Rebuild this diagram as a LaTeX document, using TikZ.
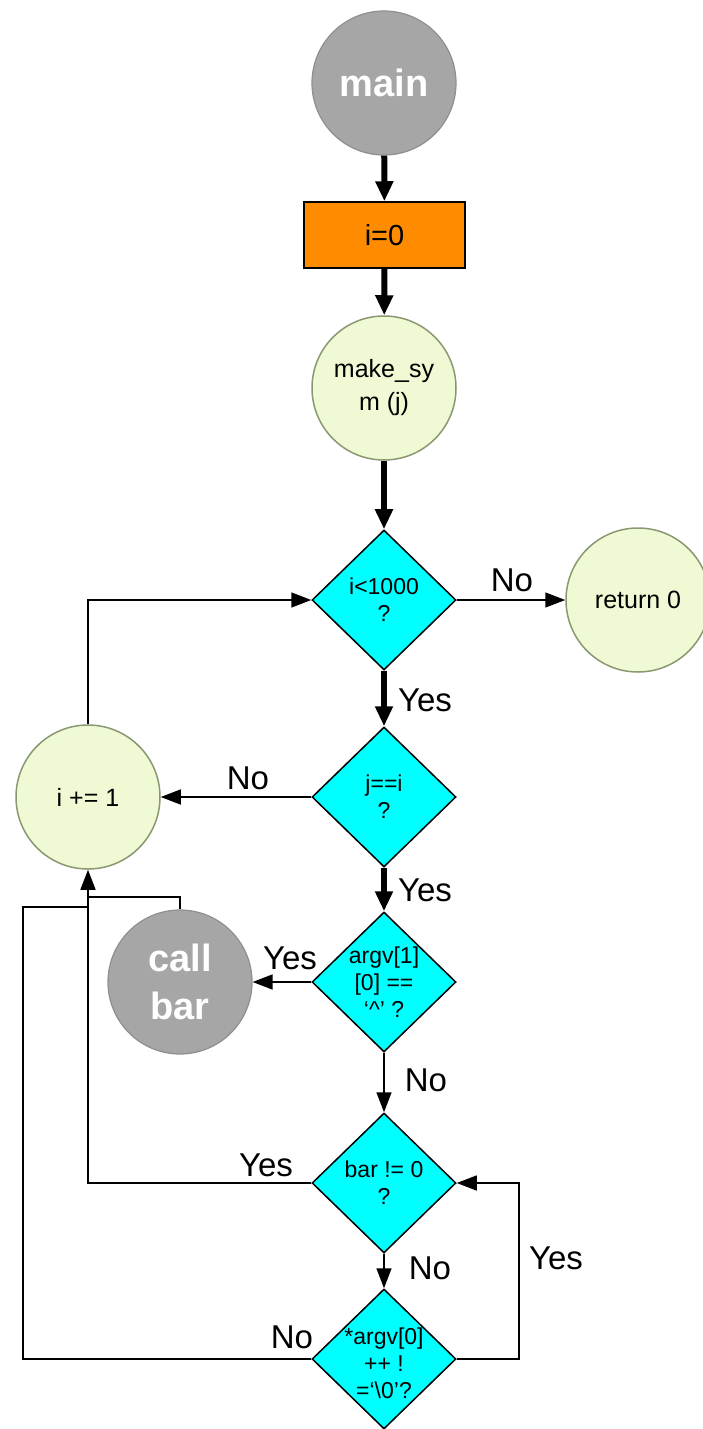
\documentclass[tikz,border=0pt]{standalone}
\usepackage{fontspec}
\setmainfont{Liberation Sans}
\usetikzlibrary{shapes.geometric,arrows.meta}
\definecolor{grayfill}{HTML}{A6A6A6}
\definecolor{grayline}{HTML}{8F8F8F}
\definecolor{greenfill}{HTML}{EFF9D3}
\definecolor{greenline}{HTML}{8A9872}
\definecolor{orangefill}{HTML}{FF8C00}
\definecolor{cyanfill}{HTML}{00FFFF}
\begin{document}
\begin{tikzpicture}[x=1pt,y=-1pt,
 graycirc/.style={circle,minimum size=144pt,inner sep=0,fill=grayfill,draw=grayline,line width=1.2pt,text=white,font=\fontsize{38}{48}\selectfont\bfseries,align=center},
 greencirc/.style={circle,minimum size=144pt,inner sep=0,fill=greenfill,draw=greenline,line width=1.5pt,font=\fontsize{25}{33}\selectfont,align=center},
 decision/.style={diamond,minimum width=144pt,minimum height=140pt,inner sep=0,fill=cyanfill,draw=black,line width=1.5pt},
 dtext/.style={font=\fontsize{23}{27}\selectfont,align=center},
 thinarrow/.style={line width=1.5pt,-{Triangle[length=20pt,width=15pt]}},
 thickarrow/.style={line width=6pt,-{Triangle[length=20pt,width=17pt]}},
 thinline/.style={line width=1.5pt},
 lbl/.style={font=\fontsize{33}{34}\selectfont,inner sep=0}]
\useasboundingbox[fill=white] (0,0) rectangle (703,1429);

\node[graycirc] (main) at (384,83) {main};
\node[draw=black,line width=1.5pt,fill=orangefill,minimum width=161pt,minimum height=66pt,inner sep=0,font=\fontsize{29}{30}\selectfont] (init) at (384.5,235) {i=0};
\node[greencirc] (make) at (384,388) {make\_sy\\m (j)};
\node[decision,label={[dtext]center:i<1000\\?}] (c1) at (384,600) {};
\node[greencirc] (ret) at (638,600) {return 0};
\node[decision,label={[dtext]center:j==i\\?}] (c2) at (384,797) {};
\node[greencirc] (inc) at (88,797) {i += 1};
\node[decision,label={[dtext]center:argv[1]\\{[0] ==}\\‘\textasciicircum’ ?}] (c3) at (384,982) {};
\node[graycirc] (call) at (180,982) {call\\bar};
\node[decision,label={[dtext]center:bar != 0\\?}] (c4) at (384,1183) {};
\node[decision,label={[dtext,yshift=-4pt]center:*argv[0]\\++ !\\=‘\textbackslash0’?}] (c5) at (384,1359) {};

\coordinate (j1) at (88,897);
\coordinate (j2) at (88,907);
\coordinate (k2) at (23,907);

\draw[thickarrow] (main) -- (init);
\draw[thickarrow] (init) -- (make);
\draw[thickarrow] (make) -- (c1);
\draw[thickarrow] (c1) -- (c2);
\draw[thickarrow] (c2) -- (c3);
\draw[thinarrow] (c1) -- (ret);
\draw[thinarrow] (c2) -- (inc);
\draw[thinarrow] (c3) -- (call);
\draw[thinarrow] (c3) -- (c4);
\draw[thinarrow] (c4) -- (c5);
\draw[thinarrow] (inc.north) |- (c1.west);
\draw[thinarrow] (c4.west) -| (inc.south);
\draw[thinline] (call.north) |- (j1);
\draw[thinline] (c5.west) -| (k2) -- (j2);
\draw[thinarrow] (c5.east) -- ++(62,0) |- (c4.east);

\node[lbl] at (512,580) {No};
\node[lbl] at (425,700) {Yes};
\node[lbl] at (248,778) {No};
\node[lbl] at (425,890) {Yes};
\node[lbl] at (290,958) {Yes};
\node[lbl] at (426,1080) {No};
\node[lbl] at (266,1165) {Yes};
\node[lbl] at (430,1268) {No};
\node[lbl] at (556,1258) {Yes};
\node[lbl] at (292,1337) {No};
\end{tikzpicture}
\end{document}
